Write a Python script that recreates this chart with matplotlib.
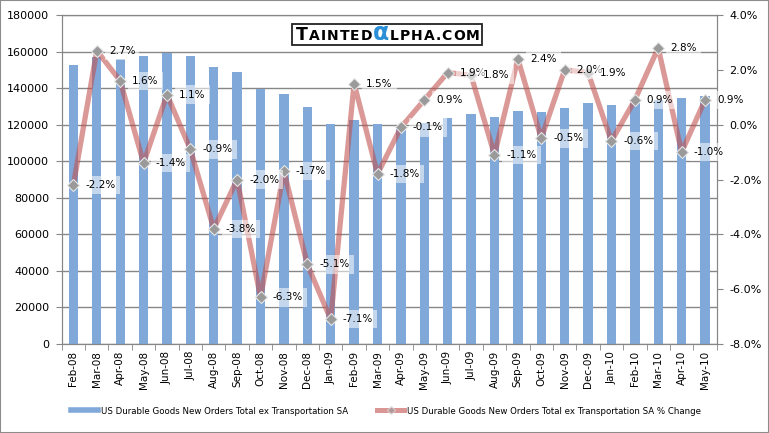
import matplotlib
matplotlib.use('Agg')
import matplotlib.pyplot as plt
from matplotlib.lines import Line2D
import matplotlib.patches as mpatches
import numpy as np

months = ['Feb-08', 'Mar-08', 'Apr-08', 'May-08', 'Jun-08', 'Jul-08', 'Aug-08',
          'Sep-08', 'Oct-08', 'Nov-08', 'Dec-08', 'Jan-09', 'Feb-09', 'Mar-09',
          'Apr-09', 'May-09', 'Jun-09', 'Jul-09', 'Aug-09', 'Sep-09', 'Oct-09',
          'Nov-09', 'Dec-09', 'Jan-10', 'Feb-10', 'Mar-10', 'Apr-10', 'May-10']
orders = [152600, 157000, 156200, 157700, 159000, 157700, 151500,
          148800, 139700, 136800, 129700, 120200, 122500, 120200,
          119500, 121000, 123800, 126000, 124300, 127600, 127100,
          129300, 132000, 130700, 131800, 133500, 134800, 135700]
pct = [-2.2, 2.7, 1.6, -1.4, 1.1, -0.9, -3.8,
       -2.0, -6.3, -1.7, -5.1, -7.1, 1.5, -1.8,
       -0.1, 0.9, 1.9, 1.8, -1.1, 2.4, -0.5,
       2.0, 1.9, -0.6, 0.9, 2.8, -1.0, 0.9]
left_ticks = list(range(0, 180001, 20000))
right_ticks = [-8, -6, -4, -2, 0, 2, 4]
legend_labels = ['US Durable Goods New Orders Total ex Transportation SA',
                 'US Durable Goods New Orders Total ex Transportation SA % Change']

BAR = '#80a8d8'
LINE = '#c0504d'
GRID = '#878787'

fig = plt.figure(figsize=(7.69, 4.33), dpi=100)
ax = fig.add_axes([61.7 / 769, 89 / 433, 655 / 769, 329 / 433])
x = np.arange(len(months))
ax.bar(x, orders, width=0.4, color=BAR, zorder=2)
ax.set_xlim(-0.5, len(months) - 0.5)
ax.set_ylim(0, 180000)
ax.set_yticks(left_ticks)
ax.set_yticklabels([str(v) for v in left_ticks])
ax.yaxis.grid(True, color=GRID, lw=1)
ax.set_axisbelow(True)
ax.set_xticks(x)
ax.set_xticklabels(months, rotation=90, fontsize=7.5)
ax.set_xticks(np.arange(-0.5, len(months)), minor=True)
ax.tick_params(axis='x', which='major', length=0, pad=5)
ax.tick_params(axis='x', which='minor', length=4, color=GRID)
ax.tick_params(axis='y', length=4, color=GRID, pad=5, labelsize=8)
for s in ax.spines.values():
    s.set_color(GRID)

ax2 = ax.twinx()
ax2.set_ylim(-8, 4)
ax2.set_yticks(right_ticks)
ax2.set_yticklabels([f'{v:.1f}%' for v in right_ticks])
ax2.tick_params(axis='y', length=4, color=GRID, pad=5, labelsize=8)
for s in ax2.spines.values():
    s.set_color(GRID)
ax2.plot(x, pct, color=LINE, alpha=0.58, lw=3.8, solid_joinstyle='round', zorder=3)
ax2.plot(x, pct, ls='none', marker='D', ms=6.5, mfc='#9a9a9a', mec='#e6e6e6', mew=0.8, zorder=4)
for xi, v in zip(x, pct):
    ax2.annotate(f'{v:.1f}%', (xi, v), xytext=(12, 0), textcoords='offset pixels',
                 ha='left', va='center', fontsize=7.5, zorder=5,
                 bbox=dict(boxstyle='square,pad=0.4', fc='white', ec='none', alpha=0.55))

handles = [Line2D([], [], color=BAR, lw=4),
           Line2D([], [], color=LINE, alpha=0.6, lw=3.6, marker='D', ms=4,
                  mfc='#9a9a9a', mec='#dddddd')]
fig.legend(handles=handles, labels=legend_labels, loc='center',
           bbox_to_anchor=(0.502, 22 / 433), ncol=2, frameon=False, fontsize=6.25,
           handlelength=3.1, handletextpad=0.3, columnspacing=3.35)

# figure border
fig.patches.append(mpatches.Rectangle((0, 0), 1, 1, transform=fig.transFigure,
                                      fill=False, ec='#8c8c8c', lw=1.5, zorder=20))

# logo
fig.patches.append(mpatches.Rectangle((292 / 769, (433 - 45) / 433), 190 / 769, 21 / 433,
                                      transform=fig.transFigure, fc='white', ec='#222222',
                                      lw=1.3, zorder=10))
renderer = fig.canvas.get_renderer()
pieces = [('T', 12.5, 'black', 1), ('AINTED', 10, 'black', 1.0), ('α', 17, '#2a8fd6', 0.5),
          ('LPHA.COM', 10, 'black', 1.0)]
xpos = 296
base = (433 - 40) / 433
for txt, fs, col, gap in pieces:
    for ch in txt:
        t = fig.text(xpos / 769, base, ch, fontsize=fs, color=col, fontweight='bold',
                     ha='left', va='baseline', zorder=11)
        bb = t.get_window_extent(renderer)
        xpos += bb.width + gap

fig.savefig('out.png', dpi=100)
